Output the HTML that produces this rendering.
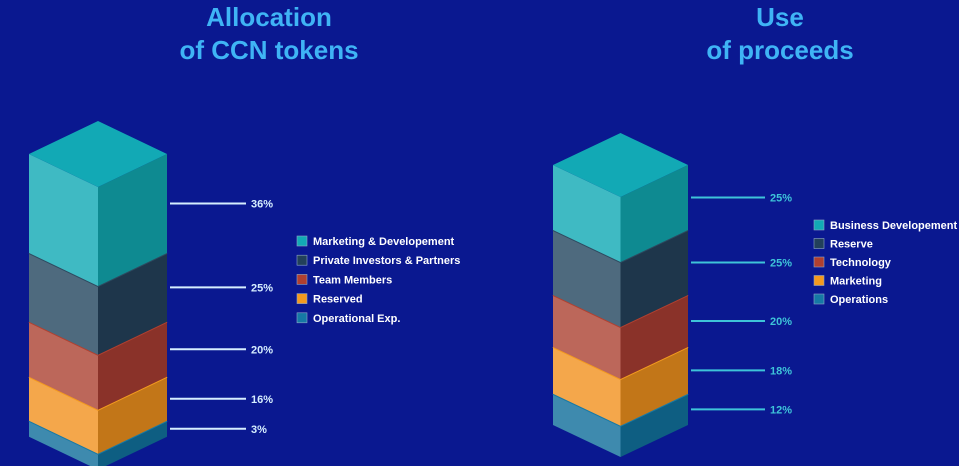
<!DOCTYPE html>
<html><head><meta charset="utf-8"><style>
html,body{margin:0;padding:0;background:#0a1890;width:959px;height:466px;overflow:hidden}
svg{display:block}
text{font-family:"Liberation Sans",sans-serif;font-weight:bold}
</style></head><body>
<svg id="chart" width="959" height="466" viewBox="0 0 959 466">
<text x="269" y="26" text-anchor="middle" font-size="26" fill="#3fb4f5">Allocation</text>
<text x="269" y="59" text-anchor="middle" font-size="26" fill="#3fb4f5">of CCN tokens</text>
<text x="780" y="26" text-anchor="middle" font-size="26" fill="#3fb4f5">Use</text>
<text x="780" y="59" text-anchor="middle" font-size="26" fill="#3fb4f5">of proceeds</text>
<g id="left"></g>
<g id="right"></g>
</svg>
<script>
const allocCategories = ["Marketing & Developement","Private Investors & Partners","Team Members","Reserved","Operational Exp."];
const allocValues = [36,25,20,16,3];
const allocLabels = ["36%","25%","20%","16%","3%"];
const useCategories = ["Business Developement","Reserve","Technology","Marketing","Operations"];
const useValues = [25,25,20,18,12];
const useLabels = ["25%","25%","20%","18%","12%"];

const palette = [
  {top:"#12a9b5",l:"#3fbac3",r:"#0e8a91",edge:"#12a9b5",sw:"#12a9b5"},
  {top:"#2d4a60",l:"#4e6a7e",r:"#1e364b",edge:"#2d4a60",sw:"#22405a"},
  {top:"#b04030",l:"#bc675a",r:"#8a3229",edge:"#b04030",sw:"#b04030"},
  {top:"#f39a1f",l:"#f4a74b",r:"#c27618",edge:"#f39a1f",sw:"#f39a1f"},
  {top:"#1679a5",l:"#3e8aae",r:"#0e5e82",edge:"#1679a5",sw:"#1679a5"}
];
const NS="http://www.w3.org/2000/svg";
function mk(tag,attrs,parent){const e=document.createElementNS(NS,tag);for(const k in attrs)e.setAttribute(k,attrs[k]);parent.appendChild(e);return e;}

function draw(gid,cfg,cats,vals,labels){
  const g=document.getElementById(gid);
  const x0=cfg.x0,x1=cfg.x1,cx=(x0+x1)/2,d=cfg.d;
  const hScale=v=>Math.max(v*cfg.scale,cfg.minH);
  let y=cfg.top;
  const segs=[];
  vals.forEach((v,i)=>{const h=hScale(v);segs.push({y,h,i});y+=h;});
  for(let k=segs.length-1;k>=0;k--){
    const s=segs[k],c=palette[s.i],yt=s.y,yb=s.y+s.h;
    const lf=mk('polygon',{points:`${x0},${yt} ${cx},${yt+d} ${cx},${yb+d} ${x0},${yb}`,fill:c.l},g);
    
    
    const rf=mk('polygon',{points:`${cx},${yt+d} ${x1},${yt} ${x1},${yb} ${cx},${yb+d}`,fill:c.r},g);
    
    
    if(k>0){
      const ed=mk('polyline',{points:`${x0},${yt} ${cx},${yt+d} ${x1},${yt}`,fill:"none",stroke:c.edge,"stroke-width":2},g);
      
      
    }
    const ly=(yt+yb)/2;
    const ln=mk('line',{x1:cfg.lx0,y1:ly,x2:cfg.lx1,y2:ly,stroke:cfg.lc,"stroke-width":2},g);
    
    
    const t=mk('text',{x:cfg.lx1+5,y:ly+4,"font-size":11,fill:cfg.lc},g);
    t.textContent=labels[s.i];
    
    
  }
  const top=cfg.top;
  const tf=mk('polygon',{points:`${x0},${top} ${cx},${top-d} ${x1},${top} ${cx},${top+d}`,fill:palette[0].top},g);
  
  
  cats.forEach((c,i)=>{
    const yy=cfg.legY+i*cfg.legStep;
    const r=mk('rect',{x:cfg.legX,y:yy-5,width:10,height:10,fill:palette[i].sw,stroke:"#8fa6c8","stroke-width":0.6},g);
    
    
    const t=mk('text',{x:cfg.legX+16,y:yy+4,"font-size":11,fill:"#ffffff"},g);
    t.textContent=c;
    
    
  });
}
draw('left',{x0:29,x1:167,d:33,top:154,scale:2.75,minH:16,lx0:170,lx1:246,lc:"#d6eeff",legX:297,legY:241,legStep:19.2},allocCategories,allocValues,allocLabels);
draw('right',{x0:553,x1:688,d:32,top:165,scale:2.6,minH:16,lx0:691,lx1:765,lc:"#3ec4d9",legX:814,legY:225,legStep:18.5},useCategories,useValues,useLabels);
</script>
</body></html>
